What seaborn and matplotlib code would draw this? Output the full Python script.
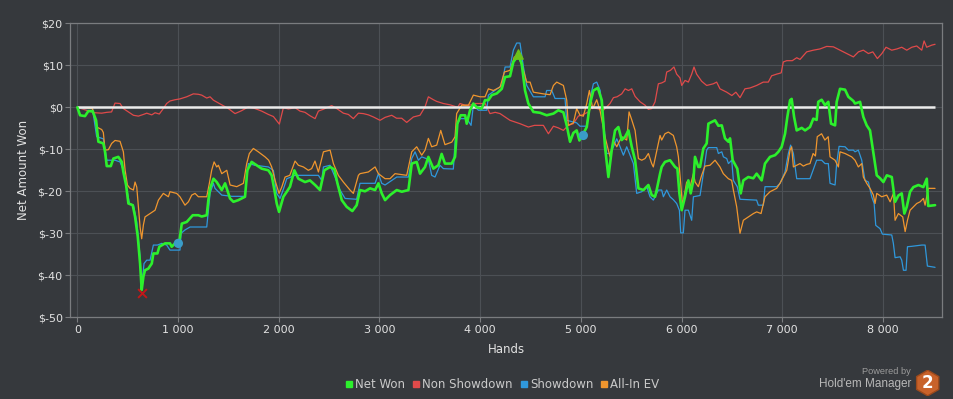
import numpy as np
import pandas as pd
import matplotlib
matplotlib.use("Agg")
import matplotlib.pyplot as plt
import seaborn as sns
from matplotlib.lines import Line2D
from matplotlib.patches import RegularPolygon
from matplotlib.ticker import FuncFormatter

# ---------------- data ----------------
net_hands = [0, 27, 76, 109, 153, 186, 209, 258, 275, 292, 332, 358, 407, 441, 457, 484, 507, 550, 573, 600,
             623, 639, 656, 672, 705, 739, 755, 795, 814, 871, 920, 937, 970, 1013, 1037, 1086, 1146, 1202, 1235, 1285,
             1301, 1318, 1352, 1384, 1434, 1467, 1516, 1550, 1599, 1665, 1688, 1731, 1781, 1830, 1897, 1930, 1957, 1980, 2003, 2046,
             2080, 2112, 2155, 2195, 2261, 2310, 2361, 2410, 2453, 2510, 2553, 2583, 2626, 2675, 2731, 2774, 2807, 2857, 2907, 2957,
             2990, 3023, 3056, 3105, 3172, 3222, 3288, 3321, 3370, 3403, 3453, 3486, 3536, 3585, 3618, 3651, 3718, 3751, 3774, 3807,
             3851, 3867, 3900, 3933, 3966, 4016, 4049, 4082, 4116, 4165, 4215, 4248, 4297, 4330, 4380, 4413, 4446, 4479, 4529, 4595,
             4661, 4728, 4777, 4827, 4860, 4893, 4926, 4959, 4986, 5020, 5059, 5092, 5125, 5169, 5208, 5240, 5274, 5307, 5340, 5373,
             5406, 5440, 5473, 5506, 5539, 5572, 5622, 5671, 5704, 5737, 5753, 5787, 5803, 5836, 5886, 5936, 5959, 5979, 6002, 6035,
             6068, 6091, 6118, 6134, 6167, 6184, 6217, 6250, 6267, 6333, 6366, 6400, 6432, 6466, 6482, 6508, 6554, 6574, 6588, 6614,
             6663, 6713, 6746, 6796, 6829, 6879, 6929, 6962, 6995, 7028, 7051, 7078, 7094, 7118, 7144, 7194, 7227, 7276, 7309, 7342,
             7358, 7392, 7425, 7458, 7485, 7525, 7541, 7574, 7624, 7657, 7707, 7723, 7773, 7806, 7839, 7872, 7906, 7939, 7972, 8005,
             8039, 8088, 8121, 8154, 8187, 8213, 8237, 8270, 8303, 8353, 8402, 8436, 8450, 8518]
net_won = [0, -1.9, -2.1, -0.9, -0.95, -3.1, -8.2, -8.6, -10.6, -14, -14, -12.2, -11.8, -13, -15.4, -18.5, -22.9, -23.3, -26, -30.8,
           -37.2, -43.5, -40.3, -38.8, -38.4, -37.2, -34.8, -34.8, -33.2, -32.4, -32.4, -33.2, -32.4, -32, -27.7, -27.3, -25.7, -25.7, -26, -25.7,
           -22.1, -19.3, -17, -17.8, -19.7, -18.1, -21.7, -22.5, -22.1, -21.3, -15, -13, -13.8, -14.6, -15, -16.2, -19.7, -22.9, -24.9, -21.3,
           -20.1, -18.9, -15, -17, -17.8, -17.4, -18.5, -19.7, -15, -14.2, -14.8, -18.1, -22.1, -23.7, -24.7, -23.3, -19.7, -20, -19.3, -19.7,
           -18.1, -20.5, -22.1, -20.9, -19.7, -20.1, -19.7, -13.4, -13, -15.8, -14.2, -11.8, -14.6, -13.8, -11.1, -13.4, -13.4, -11.8, -3.9, -1.9,
           -1.9, -3.9, -0.7, 0.9, 0, -0.3, 1.7, 1.7, 2.9, 3.3, 4.4, 7.2, 7.4, 10.8, 12.4, 10.4, 4, 0.9, -1.1, -1.3,
           -1.9, -1.5, -0.7, -1.2, -4.3, -8.2, -6.1, -5.5, -7.9, -6.5, -4.7, 0.9, 4, 4.6, 1.7, -9.4, -16.6, -10.2, -5.5, -4.7,
           -7.8, -7, -5.5, -9.4, -12.6, -19.3, -19.7, -18.5, -20.9, -21.3, -19.7, -15.8, -14.2, -13, -12.6, -14.2, -14.6, -20.5, -24.5, -21.3,
           -17.4, -20.5, -17.4, -11.8, -14.2, -14.2, -9.8, -8.6, -3.9, -3.1, -4.4, -4.3, -7.4, -8.2, -7.4, -12.6, -14.6, -18.1, -20.5, -17.4,
           -16.6, -16.9, -15.8, -17.4, -13.4, -11.8, -11.4, -10.6, -9.4, -6.3, -2.3, 1.7, 2, -2.3, -5.5, -4.9, -5.5, -4.7, -2.7, -3,
           1.3, 1.8, 0.5, 1.3, -3.9, -4.3, 1.3, 4.4, 4.2, 2.5, 1.5, 0.9, 1.3, -2.3, -4.3, -5.5, -11, -16.2, -16.9, -17.8,
           -16.2, -16.6, -22.5, -21, -20.5, -25.3, -23.7, -20.1, -19, -18.5, -19, -17, -23.5, -23.3]

sd_hands = [0, 60, 150, 192, 258, 292, 374, 424, 457, 517, 557, 590, 623, 639, 662, 689, 722, 755, 795, 838,
            887, 920, 1019, 1030, 1069, 1119, 1285, 1318, 1351, 1367, 1434, 1533, 1665, 1698, 1764, 1897, 1947, 1980, 2013, 2046,
            2080, 2162, 2394, 2427, 2444, 2510, 2559, 2609, 2659, 2774, 2807, 2957, 2990, 3023, 3056, 3172, 3288, 3321, 3354, 3387,
            3420, 3486, 3519, 3552, 3602, 3635, 3734, 3761, 3801, 3867, 3910, 3933, 3983, 4066, 4082, 4215, 4248, 4297, 4330, 4363,
            4396, 4430, 4463, 4529, 4645, 4661, 4711, 4744, 4843, 4860, 4959, 4992, 5059, 5092, 5125, 5158, 5192, 5224, 5257, 5290,
            5324, 5357, 5390, 5423, 5456, 5489, 5522, 5555, 5605, 5655, 5687, 5720, 5770, 5803, 5820, 5853, 5886, 5919, 5952, 5979,
            5992, 6018, 6035, 6068, 6101, 6118, 6184, 6217, 6250, 6267, 6350, 6366, 6400, 6416, 6449, 6466, 6499, 6515, 6554, 6581,
            6746, 6763, 6813, 6829, 6945, 6979, 7028, 7061, 7084, 7111, 7144, 7276, 7342, 7392, 7425, 7458, 7475, 7525, 7541, 7565,
            7624, 7657, 7707, 7723, 7756, 7790, 7822, 7856, 7889, 7913, 7929, 7972, 7995, 8088, 8104, 8121, 8171, 8187, 8204, 8230,
            8244, 8287, 8386, 8419, 8442, 8518]
showdown = [0, -0.3, -0.3, -7, -7.5, -12.6, -12.6, -13, -15, -22.9, -23.3, -27.3, -35.6, -42.8, -37.2, -36.4, -36.4, -32.8, -32.8, -32.4,
            -32.8, -34, -34, -30, -29.2, -28.5, -28.5, -20.5, -18.1, -19.3, -20.9, -21.2, -21.2, -13.4, -13.8, -14.2, -15, -20.5, -21.7, -19.5,
            -17, -16.2, -16.2, -17.4, -14.2, -13.8, -16.6, -19.7, -21.7, -21.9, -18.1, -18.1, -15.8, -18.1, -18.5, -16.6, -16.6, -12.2, -10.6, -12.6,
            -11.8, -12.4, -16.2, -16.6, -13.8, -14.6, -14.7, -4.7, -2.7, -2.7, -4.3, 0.5, -0.7, -0.7, 2.9, 5.2, 9.6, 9.6, 13.6, 15.3,
            15.3, 9.6, 5.2, 2.5, 2.5, 4, 4, 2.1, 2.1, -3.1, -3.7, -4.5, -4.5, 2.1, 5.6, 6, 4, -3.1, -11, -11,
            -9.4, -7.5, -9.4, -11.4, -9.4, -11.4, -13.4, -20.5, -20.1, -18.9, -21.3, -22.1, -19.7, -19.7, -21.3, -19.7, -21.3, -22, -22.9, -24.5,
            -29.9, -29.9, -24.5, -24.5, -26.9, -21.3, -21, -15.8, -10.2, -9.6, -9.6, -11, -10.6, -11.8, -12.2, -13.4, -12.6, -17.4, -18.9, -21.9,
            -22.1, -23.3, -23.3, -18.9, -18.9, -18.1, -15.4, -11, -9, -11, -17, -17, -12.6, -12.6, -13.4, -13.4, -18.1, -18.5, -13.4, -9.3,
            -9.4, -10.2, -10.2, -10.6, -10.2, -12.6, -17.4, -17.8, -21.3, -22.9, -28.1, -28.9, -30.2, -30.4, -32.4, -35.8, -35.6, -36.4, -38.8, -38.8,
            -33.2, -33.1, -32.8, -32.8, -37.8, -38.1]

nsd_hands = [0, 76, 176, 242, 292, 340, 374, 424, 457, 507, 557, 606, 656, 689, 739, 772, 814, 854, 887, 920,
             970, 1019, 1086, 1152, 1202, 1235, 1285, 1318, 1351, 1434, 1500, 1566, 1632, 1698, 1764, 1830, 1897, 1947, 1980, 2006,
             2046, 2096, 2162, 2211, 2261, 2310, 2361, 2394, 2440, 2476, 2526, 2576, 2642, 2692, 2741, 2791, 2840, 2890, 2940, 3006,
             3056, 3122, 3170, 3221, 3271, 3337, 3403, 3453, 3486, 3536, 3569, 3635, 3700, 3777, 3800, 3850, 3900, 3950, 4000, 4050,
             4098, 4150, 4198, 4248, 4297, 4396, 4479, 4540, 4628, 4678, 4728, 4777, 4827, 4876, 4926, 4975, 5025, 5075, 5108, 5160,
             5224, 5290, 5324, 5360, 5406, 5440, 5473, 5506, 5539, 5589, 5638, 5671, 5704, 5737, 5770, 5803, 5836, 5853, 5890, 5925,
             5952, 5985, 6002, 6035, 6068, 6101, 6124, 6150, 6200, 6250, 6316, 6349, 6382, 6449, 6500, 6540, 6581, 6630, 6680, 6746,
             6812, 6862, 6895, 6945, 6990, 7011, 7045, 7100, 7144, 7177, 7243, 7310, 7376, 7442, 7508, 7575, 7641, 7707, 7757, 7806,
             7856, 7900, 7945, 7990, 8031, 8088, 8140, 8187, 8237, 8287, 8336, 8386, 8409, 8435, 8485, 8518]
non_showdown = [0, -0.6, -1.3, -1.4, -1.2, -1.1, 1, 0.9, -0.3, -1.1, -1.9, -2.1, -1.7, -1.4, -1.8, -1.3, -1.6, -0.3, 0.9, 1.5,
                1.8, 2, 2.5, 3.2, 3.1, 2.9, 2.2, 2.5, 1.7, 0.6, -0.3, -1.5, -0.8, 0.1, -0.3, -0.9, -1.7, -2.2, -3.2, -4,
                -0.1, -0.4, -0.1, -0.9, -1.2, -2, -2.7, -0.9, -0.5, -0.1, 0.4, -0.3, -1.4, -1.7, -2.7, -1.4, -1.5, -1.8, -2.3, -3.1,
                -2.4, -1.9, -2.6, -2.6, -3.6, -2.3, -1.9, 0.1, 2.5, 1.8, 1.4, 0.9, 0.6, 0, 0.9, 0.5, 0.5, 0.9, 0.9, 0.9,
                -1.5, -1.2, -1.5, -2.3, -3.1, -3.9, -4.7, -4.3, -4.3, -6.3, -4.5, -4.9, -5.5, -4.3, -3.9, -2.1, -1.7, -1.1, 0, -0.3,
                -0.7, 0.9, 2.3, 2.5, 3.2, 4.4, 4, 4.4, 2.6, 1.3, 0.5, -0.5, -0.3, 1.3, 5.6, 5.8, 6.2, 8.4, 8.8, 9.6,
                7.9, 7, 5.2, 6.4, 6, 7.9, 9.6, 7.9, 6.2, 5.2, 5.6, 6, 4.4, 3.6, 2.8, 3.6, 2.3, 4.4, 4.6, 5.2,
                6, 6, 7.5, 7.9, 8.2, 10.8, 11.1, 11.1, 11.8, 11.4, 13.2, 13.6, 13.9, 14.5, 14.4, 13.6, 12.8, 12, 13.2, 13.6,
                12.8, 13.2, 11.6, 12.8, 14.3, 13.6, 13.9, 14.3, 13.6, 14.3, 14.6, 13.6, 15.8, 14.3, 14.8, 15]

ev_hands = [0, 150, 192, 242, 258, 275, 308, 341, 374, 424, 457, 474, 497, 523, 557, 573, 590, 606, 623, 639,
            656, 672, 722, 772, 805, 854, 904, 920, 986, 1019, 1069, 1103, 1136, 1169, 1202, 1285, 1311, 1334, 1358, 1384,
            1401, 1434, 1484, 1517, 1583, 1649, 1682, 1708, 1748, 1797, 1864, 1900, 1930, 1964, 2003, 2030, 2063, 2110, 2162, 2195,
            2245, 2294, 2327, 2360, 2394, 2444, 2510, 2543, 2592, 2642, 2708, 2741, 2791, 2807, 2890, 2957, 2990, 3056, 3105, 3155,
            3271, 3321, 3370, 3420, 3453, 3486, 3519, 3569, 3609, 3651, 3718, 3751, 3767, 3817, 3884, 3933, 3999, 4049, 4082, 4132,
            4198, 4241, 4297, 4340, 4390, 4430, 4463, 4496, 4529, 4628, 4695, 4728, 4761, 4827, 4860, 4876, 4926, 4959, 4992, 5025,
            5059, 5085, 5118, 5158, 5192, 5240, 5290, 5324, 5357, 5406, 5456, 5479, 5506, 5539, 5572, 5605, 5638, 5671, 5704, 5720,
            5770, 5787, 5803, 5836, 5869, 5919, 5952, 5969, 5992, 6010, 6051, 6085, 6118, 6135, 6167, 6200, 6233, 6283, 6333, 6382,
            6415, 6465, 6498, 6515, 6548, 6581, 6614, 6664, 6714, 6747, 6790, 6829, 6879, 6945, 6978, 7011, 7045, 7078, 7094, 7111,
            7144, 7177, 7210, 7243, 7276, 7307, 7330, 7348, 7391, 7424, 7457, 7475, 7525, 7558, 7574, 7624, 7690, 7723, 7756, 7790,
            7806, 7839, 7872, 7906, 7922, 7939, 7988, 8038, 8072, 8105, 8121, 8154, 8197, 8221, 8244, 8270, 8303, 8336, 8370, 8402,
            8419, 8451, 8518]
all_in_ev = [0, -0.3, -4.7, -5.3, -6, -10.2, -10.1, -8.6, -7.9, -8.1, -10.6, -14.9, -18.5, -19.3, -19.7, -17.8, -19, -23.7, -28.5, -31.3,
             -28, -26.1, -25.3, -24.5, -22.1, -20.5, -21.3, -20.1, -20.5, -21.3, -23.3, -22.5, -20.9, -20.5, -21.3, -21.3, -18.1, -15, -13, -14.2,
             -13.8, -15.8, -15, -18.5, -18.9, -18.1, -13.4, -11, -9.8, -10.6, -11.8, -12.6, -14.2, -17.4, -20.5, -19, -16.6, -16.2, -12.8, -13.8,
             -14.2, -15, -14.6, -12.8, -15.4, -10.6, -10.2, -13.4, -16.2, -17.8, -19.7, -20.5, -16.2, -15.8, -15.4, -14.2, -15.8, -17, -17, -15.8,
             -16.2, -10.6, -9.4, -11.4, -10.2, -7.4, -9.4, -9, -5.5, -8.9, -8.3, -7, -1.5, 0.5, 0.5, 2.9, 2.5, 2.5, 4.4, 4,
             4.8, 8.4, 8.8, 12, 11.6, 8.8, 6, 6, 3.6, 3.2, 3, 5.2, 6, 5.2, 1.7, -4.3, -3.7, -0.3, -1.9, -2.1,
             0.9, 4, -0.3, 1.8, -0.9, -7, -11.8, -8, -9.4, -7, -7.8, -1.1, -3, -5.5, -12.2, -12.6, -12.2, -11, -13.4, -14.2,
             -8.6, -6.7, -7.8, -6.3, -5.9, -6.7, -9.4, -11.8, -18.1, -23.5, -17.8, -19, -15.8, -17.8, -18.9, -16.2, -14, -13.8, -12.6, -14.2,
             -15.8, -17, -17.4, -19.7, -23.7, -30, -26.9, -26.1, -25.3, -24.9, -25.3, -21.3, -20.1, -19.3, -18.1, -16.6, -15, -10.2, -9.4, -14.2,
             -13.8, -13.4, -14, -13.6, -13.4, -11, -11.6, -7, -6.3, -7.8, -7, -11.8, -12.6, -14.2, -10.6, -11, -11.8, -12.6, -14.2, -13.4,
             -16.6, -18.1, -19.3, -20.9, -22.9, -20.5, -21.3, -20.9, -22.5, -20.5, -26.9, -25.3, -26.1, -29.6, -26.9, -24.5, -23.7, -22.9, -22.5, -21.7,
             -23.3, -19.3, -19.3]

# highlighted showdown points (blue dots)
dot_hands = [1003, 5025]
dot_values = [-32.4, -6.7]

series_labels = ["Net Won", "Non Showdown", "Showdown", "All-In EV"]
y_ticks = [-50, -40, -30, -20, -10, 0, 10, 20]
x_ticks = [0, 1000, 2000, 3000, 4000, 5000, 6000, 7000, 8000]

# ---------------- styling ----------------
BG = "#36393d"
GRID = "#4c5055"
SPINE = "#7a7c7f"
TXT = "#e2e2e2"
C_NET = "#2cf02c"
C_NSD = "#e04a4a"
C_SD = "#2f98dc"
C_EV = "#f0962e"

sns.set_theme(style="dark")
plt.rcParams["font.family"] = ["DejaVu Sans"]

fig = plt.figure(figsize=(9.54, 3.99), dpi=100, facecolor=BG)
ax = fig.add_axes([70.3 / 954, 1 - 317.3 / 399, (941.7 - 70.3) / 954, (317.3 - 23.3) / 399])
ax.set_facecolor(BG)

df_nsd = pd.DataFrame({"Hands": nsd_hands, "v": non_showdown})
df_sd = pd.DataFrame({"Hands": sd_hands, "v": showdown})
df_ev = pd.DataFrame({"Hands": ev_hands, "v": all_in_ev})
df_net = pd.DataFrame({"Hands": net_hands, "v": net_won})

sns.lineplot(data=df_nsd, x="Hands", y="v", ax=ax, color=C_NSD, lw=0.9, estimator=None, sort=False, zorder=3)
sns.lineplot(data=df_sd, x="Hands", y="v", ax=ax, color=C_SD, lw=0.9, estimator=None, sort=False, zorder=4)
sns.lineplot(data=df_ev, x="Hands", y="v", ax=ax, color=C_EV, lw=0.9, estimator=None, sort=False, zorder=5)
ax.hlines(0, net_hands[0], net_hands[-1], color="#ececec", lw=1.8, zorder=6)
sns.lineplot(data=df_net, x="Hands", y="v", ax=ax, color=C_NET, lw=1.9, estimator=None, sort=False, zorder=7)

# extreme markers
i_min = int(np.argmin(net_won))
i_max = int(np.argmax(net_won))
ax.scatter([net_hands[i_min]], [net_won[i_min] - 0.6], marker="x", s=40, color="#c01818", linewidths=1.4, zorder=9)
ax.scatter([net_hands[i_max]], [net_won[i_max] + 0.4], marker="^", s=45, color="#6cc21a", zorder=9)
ax.scatter(dot_hands, dot_values, s=45, color="#3a9cc8", zorder=9, edgecolors="none")

# axes
ax.set_xlim(-70, 8584)
ax.set_ylim(-50, 20)
ax.set_xticks(x_ticks)
ax.set_yticks(y_ticks)
ax.xaxis.set_major_formatter(FuncFormatter(lambda v, p: f"{int(v):,}".replace(",", " ")))
ax.yaxis.set_major_formatter(FuncFormatter(lambda v, p: f"${int(v)}"))
ax.grid(True, color=GRID, lw=0.8)
ax.set_axisbelow(True)
for s in ax.spines.values():
    s.set_visible(True)
    s.set_color(SPINE)
    s.set_linewidth(0.9)
ax.tick_params(axis="both", colors=SPINE, labelcolor=TXT, labelsize=8, length=3.5, width=0.8,
               bottom=True, left=True, pad=2)
ax.set_xlabel("Hands", color=TXT, fontsize=8.5, labelpad=5.5)
ax.set_ylabel("Net Amount Won", color=TXT, fontsize=8.5, labelpad=5.5)

# legend
handles = [Line2D([], [], marker="s", linestyle="none", markersize=4.5, color=c)
           for c in [C_NET, C_NSD, C_SD, C_EV]]
fig.legend(handles, series_labels, loc="center", bbox_to_anchor=(502 / 954, 1 - 385 / 399), ncol=4, frameon=False,
           handletextpad=0.1, columnspacing=0.55, fontsize=8.5, labelcolor="#cacaca", handlelength=0.8)

# branding
fig.text(911 / 954, 1 - 372 / 399, "Powered by", ha="right", va="center", fontsize=6.7, color="#9a9a9a",
         family=["Liberation Sans", "DejaVu Sans"])
fig.text(911 / 954, 1 - 383.5 / 399, "Hold'em Manager", ha="right", va="center", fontsize=8.5, color="#b8b8b8",
         family=["Liberation Sans", "DejaVu Sans"])
lax = fig.add_axes([914.7 / 954, 1 - 396 / 399, 26 / 954, 26 / 399])
lax.set_xlim(-13, 13)
lax.set_ylim(-13, 13)
lax.axis("off")
lax.add_patch(RegularPolygon((0, 0), numVertices=6, radius=12.8, facecolor="#c8622a", edgecolor="#9c4a1c", lw=1))
lax.text(0, -0.5, "2", ha="center", va="center", color="white", fontsize=12, fontweight="bold")

fig.savefig("out.png", dpi=100, facecolor=BG)
